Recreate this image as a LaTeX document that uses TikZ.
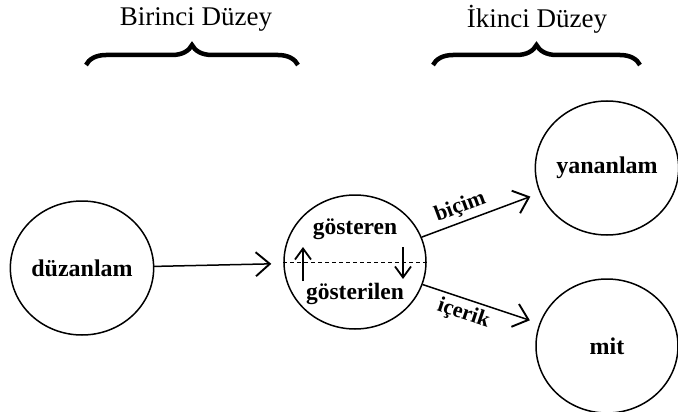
\documentclass[tikz,border=0pt]{standalone}
\usepackage{fontspec}
\setmainfont{Liberation Serif}
\usetikzlibrary{arrows.meta,decorations.pathreplacing,shapes.geometric}
\tikzset{
  bubble/.style={draw,line width=1.5pt,ellipse,minimum width=142pt,minimum height=134pt,inner sep=0pt,font=\fontsize{24}{26}\selectfont\bfseries},
  inner/.style={font=\fontsize{23.5}{26}\selectfont\bfseries,inner sep=1pt},
  header/.style={font=\fontsize{27}{30}\selectfont},
  arr/.style={line width=1.5pt,-{Straight Barb[length=14pt,width=24pt,line width=1.9pt]}},
  smallarr/.style={line width=1.6pt,-{Straight Barb[length=11pt,width=16pt,line width=1.8pt]}},
  lbl/.style={font=\fontsize{22}{24}\selectfont\bfseries,sloped,inner sep=2pt},
  bigbrace/.style={line width=4.5pt,decorate,decoration={brace,amplitude=20pt,aspect=0.5}}
}
\begin{document}
\begin{tikzpicture}[x=1pt,y=-1pt]
\useasboundingbox (0,0) rectangle (678,412);
\node[header] (h1) at (196,19) {Birinci Düzey};
\node[header] (h2) at (537,19) {İkinci Düzey};
\coordinate (b1l) at (86,65);
\coordinate (b1r) at (298,65);
\coordinate (b2l) at (433,65);
\coordinate (b2r) at (640,65);
\draw[bigbrace] (b1l) -- (b1r);
\draw[bigbrace] (b2l) -- (b2r);
\node[bubble] (duz) at (82,268) {düzanlam};
\node[bubble] (gos) at (355,262) {};
\node[bubble] (yan) at (607,168) {yananlam};
\node[bubble] (mit) at (607,346) {mit};
\node[inner] (gt) at (355,229) {gösteren};
\node[inner] (gl) at (355,294) {gösterilen};
\draw[line width=1pt,dash pattern=on 4pt off 3pt] (gos.west) -- (gos.east);
\coordinate (ua) at (303,281);
\coordinate (ub) at (303,247);
\coordinate (da) at (403,247);
\coordinate (db) at (403,279);
\draw[smallarr] (ua) -- (ub);
\draw[smallarr] (da) -- (db);
\draw[arr,shorten <=-1pt,shorten >=12pt] (duz) -- (gos);
\draw[arr,shorten >=10pt] (gos) -- node[lbl,above=2pt,pos=0.37] {biçim} (yan);
\draw[arr,shorten >=10pt] (gos) -- node[lbl,below=2pt,pos=0.39] {içerik} (mit);
\end{tikzpicture}
\end{document}
